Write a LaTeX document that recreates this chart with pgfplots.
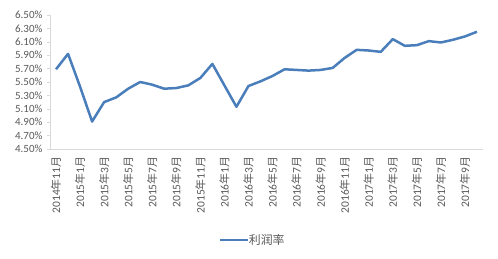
\documentclass[border=0pt]{standalone}
\usepackage{fontspec}
\setmainfont{Carlito}
\newfontfamily\cjk{Noto Sans CJK SC}[Scale=0.95]
\usepackage{pgfplots}
\pgfplotsset{compat=1.18}
\definecolor{lineblue}{HTML}{4A7EBB}
\definecolor{axgray}{HTML}{D9D9D9}
\definecolor{txtgray}{HTML}{595959}
\newcommand{\ym}[2]{#1{\cjk 年}#2{\cjk 月}}
\begin{document}
\begin{tikzpicture}[x=1pt,y=1pt]
\path[use as bounding box] (-50,-109) rectangle (448,149);
\begin{axis}[
  at={(0,0)}, anchor=south west,
  scale only axis, width=433pt, height=134pt,
  xmin=-0.5, xmax=35.5, ymin=4.5, ymax=6.5,
  axis x line*=bottom, axis y line*=left,
  axis line style={axgray, line width=0.6pt},
  ytick={4.5,4.7,...,6.51},
  yticklabel={\pgfmathprintnumber[fixed,fixed zerofill,precision=2]{\tick}\%},
  /pgf/number format/assume math mode=true,
  yticklabel style={font=\fontsize{11}{12}\selectfont, text=txtgray, xshift=-1pt},
  ytick style={axgray, line width=0.6pt},
  tick align=outside, major tick length=3pt,
  xtick={0,2,...,34},
  xticklabels={\ym{2014}{11},\ym{2015}{1},\ym{2015}{3},\ym{2015}{5},\ym{2015}{7},\ym{2015}{9},\ym{2015}{11},\ym{2016}{1},\ym{2016}{3},\ym{2016}{5},\ym{2016}{7},\ym{2016}{9},\ym{2016}{11},\ym{2017}{1},\ym{2017}{3},\ym{2017}{5},\ym{2017}{7},\ym{2017}{9}},
  xticklabel style={rotate=90, anchor=east, font=\fontsize{11.5}{12}\selectfont, text=txtgray, xshift=-1pt},
  x tick style={draw=none},
  legend style={at={(0.5,-109pt)}, anchor=south, yshift=9pt, xshift=-14pt, draw=none, font=\fontsize{12.5}{14}\selectfont\cjk, text=txtgray, legend columns=1, inner sep=1pt, /tikz/every odd column/.style={column sep=-2pt}},
  legend image code/.code={\draw[#1, line width=2.5pt] (0pt,0pt) -- (28pt,0pt);},
  legend cell align=left,
  clip=false,
]
\addplot[lineblue, line width=2.5pt, line join=round] coordinates {
(0,5.69) (1,5.92) (2,5.43) (3,4.91) (4,5.20) (5,5.27) (6,5.40) (7,5.50)
(8,5.46) (9,5.40) (10,5.41) (11,5.45) (12,5.56) (13,5.77) (14,5.45) (15,5.13)
(16,5.44) (17,5.51) (18,5.59) (19,5.69) (20,5.68) (21,5.67) (22,5.68) (23,5.71)
(24,5.86) (25,5.98) (26,5.97) (27,5.95) (28,6.14) (29,6.04) (30,6.05) (31,6.11)
(32,6.09) (33,6.13) (34,6.18) (35,6.25)
};
\addlegendentry{利润率}
\end{axis}
\end{tikzpicture}
\end{document}
